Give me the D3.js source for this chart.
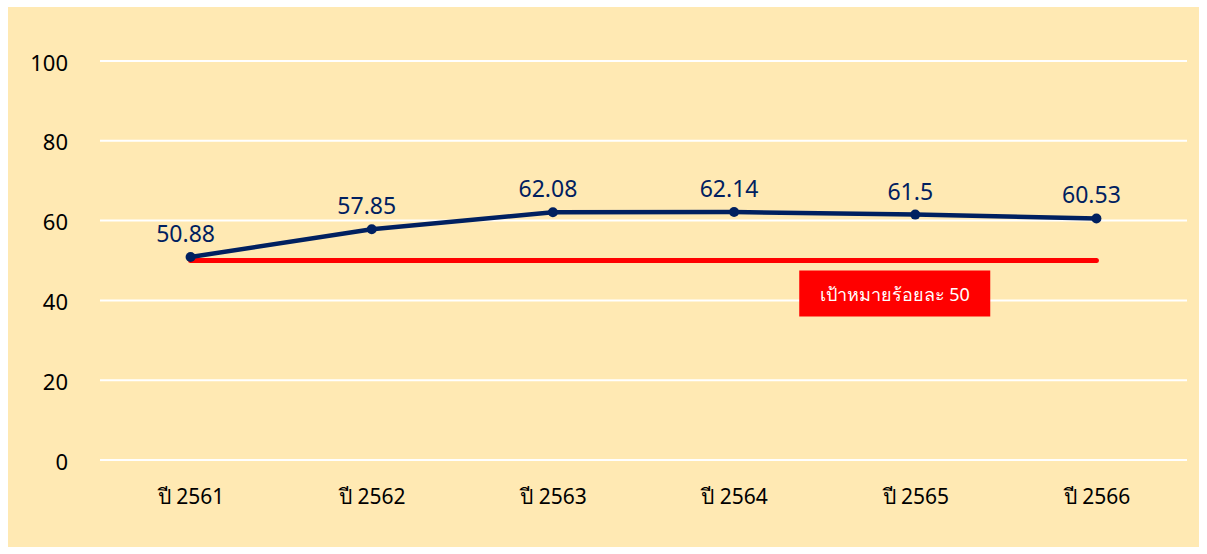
<!DOCTYPE html>
<html>
<head>
<meta charset="utf-8">
<script src="https://cdn.jsdelivr.net/npm/d3@7"></script>
<style>
	body { margin: 0; background: #fff; }
	svg { display: block; font-family: "Noto Sans", "DejaVu Sans", sans-serif; }
</style>
</head>
<body>
<script>
var years = ["ปี 2561", "ปี 2562", "ปี 2563", "ปี 2564", "ปี 2565", "ปี 2566"];
var values = [50.88, 57.85, 62.08, 62.14, 61.5, 60.53];
var yTicks = [0, 20, 40, 60, 80, 100];
var target = 50;
var targetLabel = "เป้าหมายร้อยละ 50";

var width = 1207,
		height = 554,
		plotLeft = 100,
		plotRight = 1187,
		plotTop = 61,
		plotBottom = 460,
		fontName = '"Noto Sans", "DejaVu Sans", sans-serif';

var svg = d3.select("body")
	.append("svg")
	.attr("width", width)
	.attr("height", height);

// background panel
svg.append("rect")
	.attr("x", 8)
	.attr("y", 7)
	.attr("width", 1191)
	.attr("height", 540)
	.style("fill", "#FFE9B3");

var x = d3.scalePoint()
	.domain(years)
	.range([plotLeft, plotRight])
	.padding(0.5);

var y = d3.scaleLinear()
	.domain([0, 100])
	.range([plotBottom, plotTop]);

// gridlines
svg.append("g")
	.selectAll("line")
	.data(yTicks)
	.enter()
	.append("line")
	.attr("x1", plotLeft)
	.attr("x2", plotRight)
	.attr("y1", function (d) { return y(d); })
	.attr("y2", function (d) { return y(d); })
	.style("stroke", "#fff")
	.style("stroke-width", 2);

// y axis labels
var yAxis = svg.append("g")
	.attr("transform", "translate(" + 68 + ",2)")
	.call(d3.axisLeft(y).tickValues(yTicks).tickSize(0).tickPadding(0));
yAxis.attr("font-family", fontName);
yAxis.select(".domain").remove();
yAxis.selectAll("text")
	.style("font-size", "22px")
	.style("fill", "#000");

// x axis labels
var xAxis = svg.append("g")
	.attr("transform", "translate(0," + 489 + ")")
	.call(d3.axisBottom(x).tickSize(0).tickPadding(0));
xAxis.attr("font-family", fontName);
xAxis.select(".domain").remove();
xAxis.selectAll("text")
	.style("font-size", "21px")
	.style("fill", "#000");

// target line
svg.append("line")
	.attr("x1", x(years[0]))
	.attr("x2", x(years[years.length - 1]))
	.attr("y1", y(target))
	.attr("y2", y(target))
	.style("stroke", "#FF0000")
	.style("stroke-width", 5)
	.style("stroke-linecap", "round");

// target label box
var labelX = x(years[4]) - 116,
		labelY = y(target) + 10;
svg.append("rect")
	.attr("x", labelX)
	.attr("y", labelY)
	.attr("width", 191)
	.attr("height", 46)
	.style("fill", "#FF0000");
svg.append("text")
	.attr("x", labelX + 95.5)
	.attr("y", labelY + 30)
	.attr("text-anchor", "middle")
	.style("font-size", "18px")
	.style("fill", "#fff")
	.text(targetLabel);

// series line
var line = d3.line()
	.x(function (d, i) { return x(years[i]); })
	.y(function (d) { return y(d); });

svg.append("path")
	.datum(values)
	.attr("d", line)
	.style("fill", "none")
	.style("stroke", "#002060")
	.style("stroke-width", 4.5)
	.style("stroke-linejoin", "round");

svg.append("g")
	.selectAll("circle")
	.data(values)
	.enter()
	.append("circle")
	.attr("cx", function (d, i) { return x(years[i]); })
	.attr("cy", function (d) { return y(d); })
	.attr("r", 5)
	.style("fill", "#002060");

svg.append("g")
	.selectAll("text")
	.data(values)
	.enter()
	.append("text")
	.attr("x", function (d, i) { return x(years[i]) - 5; })
	.attr("y", function (d) { return y(d) - 15; })
	.attr("text-anchor", "middle")
	.style("font-size", "23px")
	.style("fill", "#002060")
	.text(function (d) { return d; });
</script>
</body>
</html>
